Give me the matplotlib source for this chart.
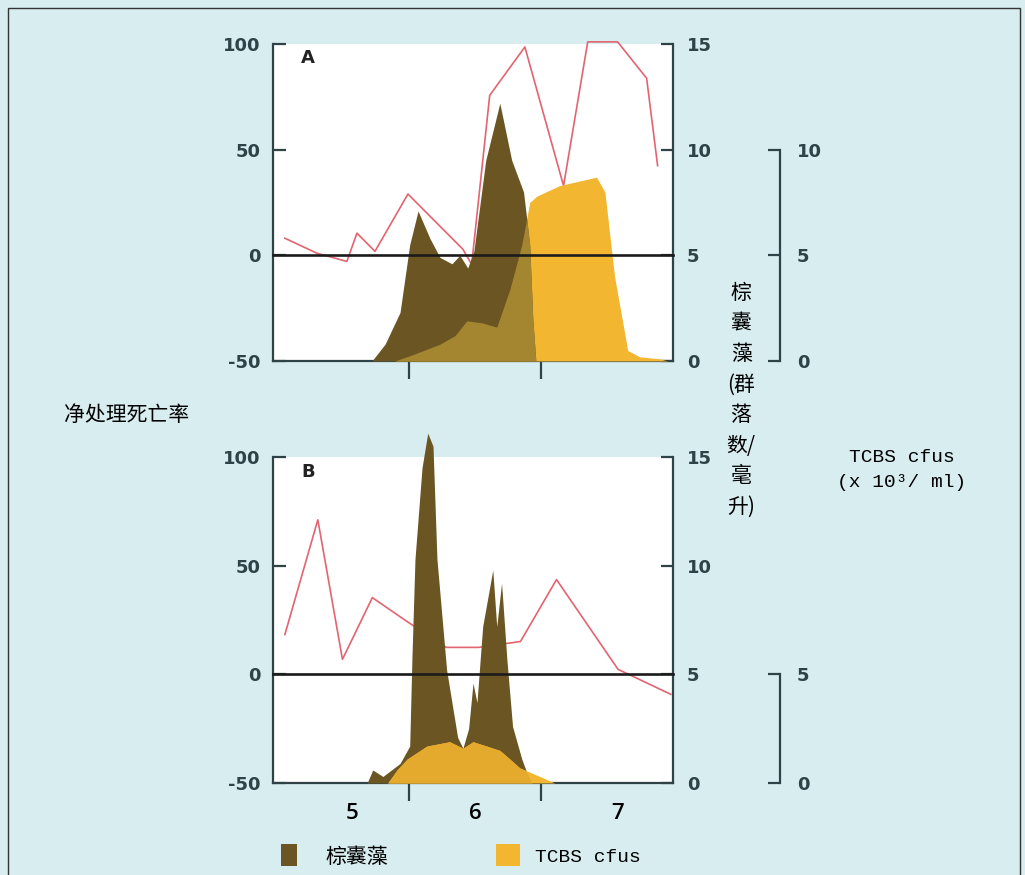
import numpy as np
import matplotlib.pyplot as plt
from matplotlib.patches import Rectangle

plt.rcParams['axes.unicode_minus'] = False

# x axis: days counted from 1 May
month_edges = [31, 61]
month_labels = ["5", "6", "7"]
month_label_pos = [18, 46, 78.5]

# panel A
a_mort_day = [2.7, 10.0, 16.8, 19.1, 23.2, 30.7, 43.2, 45.2, 49.3, 57.3, 66.1, 71.6, 78.4, 85.0, 87.5]
a_mort = [8.1, 1.0, -2.9, 10.5, 1.9, 29.0, 2.9, -4.3, 75.7, 98.6, 32.9, 101, 101, 83.8, 42.4]
a_phaeo_day = [22.5, 25.5, 28.9, 31.1, 33.0, 35.7, 38.0, 40.7, 42.5, 44.3, 45.7, 48.4, 51.6, 54.3, 57.0, 58.4, 59.1, 59.8]
a_phaeo = [0, 0.8, 2.3, 5.5, 7.1, 5.8, 4.9, 4.6, 5.0, 4.4, 5.2, 9.5, 12.2, 9.5, 8.0, 5.5, 2.0, 0]
a_tcbs_day = [27.7, 31.8, 38.0, 41.4, 44.1, 47.7, 50.9, 53.9, 56.6, 58.4, 60.0, 65.2, 73.6, 75.5, 77.7, 80.7, 83.4, 88.0, 89.8]
a_tcbs = [0, 0.3, 0.8, 1.2, 1.9, 1.8, 1.6, 3.4, 5.5, 7.5, 7.8, 8.3, 8.7, 8.0, 4.0, 0.5, 0.2, 0.1, 0]

# panel B
b_mort_day = [2.7, 10.2, 15.8, 22.6, 30.5, 39.4, 46.8, 56.3, 64.5, 78.5, 90.5]
b_mort = [18.3, 71.1, 6.9, 35.3, 24.3, 12.4, 12.4, 15.1, 43.6, 2.3, -9.2]
b_phaeo_day = [21.4, 22.7, 25.0, 28.9, 31.1, 31.6, 32.3, 33.9, 35.2, 36.4, 37.3, 39.5, 42.0, 43.2,
               44.5, 45.5, 46.4, 47.7, 50.0, 50.9, 52.0, 53.2, 54.5, 56.6, 57.7, 58.9]
b_phaeo = [0, 0.6, 0.3, 0.9, 1.7, 5.7, 10.3, 14.5, 16.1, 15.5, 10.3, 5.2, 2.1, 1.6,
           2.5, 4.6, 3.7, 7.2, 9.8, 7.2, 9.2, 5.7, 2.6, 1.1, 0.5, 0]
b_tcbs_day = [26.1, 28.2, 30.5, 35.0, 40.2, 43.2, 45.5, 48.6, 51.6, 53.9, 56.1, 60.7, 64.1]
b_tcbs = [0, 0.6, 1.1, 1.7, 1.9, 1.6, 1.9, 1.7, 1.5, 1.1, 0.7, 0.3, 0]

BG = '#d8edf0'
INK = '#2f4247'
BROWN = '#6b5623'
YELLOW = '#f2b631'
RED = '#e26470'
W, H = 1025, 875


def fx(px):
    return px / W


def fy(py):
    return 1 - py / H


def num_font(labels, size=13):
    for t in labels:
        t.set_fontfamily('DejaVu Sans')
        t.set_fontweight('bold')
        t.set_fontsize(size)
        t.set_color(INK)


def panel(rect, letter, mort_day, mort, ph_day, ph, tc_day, tc, tcbs_top, overlap_col, yellow_on_top):
    ax = fig.add_axes(rect)
    ax.set_facecolor('white')
    ax.set_xlim(0, 91)
    ax.set_ylim(-50, 100)
    for s in ('top', 'right'):
        ax.spines[s].set_visible(False)
    for s in ('left', 'bottom'):
        ax.spines[s].set_linewidth(1.6)
        ax.spines[s].set_color(INK)
    ax.set_yticks([-50, 0, 50, 100])
    ax.set_yticklabels(['-50', '0', '50', '100'])
    ax.tick_params(axis='y', direction='in', length=9, width=1.6, pad=9, color=INK)
    num_font(ax.get_yticklabels())
    ax.set_xticks(month_edges)
    ax.set_xticklabels([])
    ax.tick_params(axis='x', direction='out', length=13, width=1.6, color=INK)

    # mortality line sits under the filled areas
    ax.plot(mort_day, mort, color=RED, lw=1.2, clip_on=False, zorder=2)

    ax2 = ax.twinx()
    ax2.set_ylim(0, 15)
    ax2.patch.set_visible(False)
    for s in ('top', 'left', 'bottom'):
        ax2.spines[s].set_visible(False)
    ax2.spines['right'].set_linewidth(1.6)
    ax2.spines['right'].set_color(INK)
    ax2.set_yticks([0, 5, 10, 15])
    ax2.set_yticklabels(['0', '5', '10', '15'])
    ax2.tick_params(axis='y', direction='in', length=9, width=1.6, pad=10, color=INK)
    num_font(ax2.get_yticklabels())

    grid = np.linspace(0, 91, 3000)
    ph_g = np.interp(grid, ph_day, ph, left=0, right=0)
    tc_g = np.interp(grid, tc_day, tc, left=0, right=0)
    if yellow_on_top:
        ax2.fill_between(ph_day, 0, ph, color=BROWN, lw=0, clip_on=False, zorder=2)
        ax2.fill_between(tc_day, 0, tc, color=YELLOW, lw=0, zorder=3)
    else:
        ax2.fill_between(tc_day, 0, tc, color=YELLOW, lw=0, zorder=2)
        ax2.fill_between(ph_day, 0, ph, color=BROWN, lw=0, clip_on=False, zorder=3)
    ax2.fill_between(grid, 0, np.minimum(ph_g, tc_g), color=overlap_col, lw=0, zorder=4)

    # zero line of the mortality scale, drawn over the areas
    ax2.plot([0, 1], [0, 0], transform=ax.get_yaxis_transform(), color='#1b1b1b', lw=1.9,
             zorder=5, clip_on=False)

    ax.text(0.088, 0.955, letter, transform=ax.transAxes, ha='center', va='center',
            fontsize=13, fontweight='bold', family='DejaVu Sans', color='#222222', zorder=6)

    ax3 = ax.twinx()
    ax3.set_ylim(0, 15)
    ax3.patch.set_visible(False)
    for s in ('top', 'left', 'bottom'):
        ax3.spines[s].set_visible(False)
    ax3.spines['right'].set_position(('axes', 1.2675))
    ax3.spines['right'].set_bounds(0, tcbs_top)
    ax3.spines['right'].set_linewidth(1.6)
    ax3.spines['right'].set_color(INK)
    ticks = list(range(0, tcbs_top + 1, 5))
    ax3.set_yticks(ticks)
    ax3.set_yticklabels([str(t) for t in ticks])
    ax3.tick_params(axis='y', direction='in', length=9, width=1.6, pad=12, color=INK)
    num_font(ax3.get_yticklabels())
    return ax


fig = plt.figure(figsize=(W / 100, H / 100), dpi=100, facecolor=BG)

panel([fx(273), fy(361), 400 / W, 317 / H], 'A', a_mort_day, a_mort, a_phaeo_day, a_phaeo,
      a_tcbs_day, a_tcbs, 10, '#a48530', False)
axb = panel([fx(273), fy(783), 400 / W, 326 / H], 'B', b_mort_day, b_mort, b_phaeo_day, b_phaeo,
            b_tcbs_day, b_tcbs, 5, '#e4aa2e', True)

for pos, lab in zip(month_label_pos, month_labels):
    axb.text(pos, -59, lab, ha='center', va='top', fontsize=16, family='Open Sans',
             fontweight='semibold', color='black')

cjk = ['Noto Sans CJK SC', 'DejaVu Sans']
fig.text(fx(127), fy(415), '净处理死亡率', ha='center', va='center', fontsize=15, family=cjk)
fig.text(fx(741), fy(400), '棕\n囊\n藻\n(群\n落\n数/\n毫\n升)', ha='center', va='center',
         fontsize=15, family=cjk, linespacing=1.5, multialignment='center')
fig.text(fx(902), fy(470), 'TCBS cfus\n(x 10³/ ml)', ha='center', va='center', fontsize=14,
         family='Liberation Mono', linespacing=1.6)

# legend
fig.patches.append(Rectangle((fx(281), fy(866)), 16 / W, 22 / H, transform=fig.transFigure,
                             color=BROWN, lw=0))
fig.text(fx(325), fy(857), '棕囊藻', ha='left', va='center', fontsize=15, family=cjk)
fig.patches.append(Rectangle((fx(496), fy(866)), 24 / W, 22 / H, transform=fig.transFigure,
                             color=YELLOW, lw=0))
fig.text(fx(535), fy(857), 'TCBS cfus', ha='left', va='center', fontsize=14, family='Liberation Mono')

# outer frame
fig.patches.append(Rectangle((fx(8), -0.02), (1020 - 8) / W, fy(8) + 0.02, transform=fig.transFigure,
                             fill=False, edgecolor='#333333', lw=1))

fig.savefig('out.png', dpi=100, facecolor=BG)
